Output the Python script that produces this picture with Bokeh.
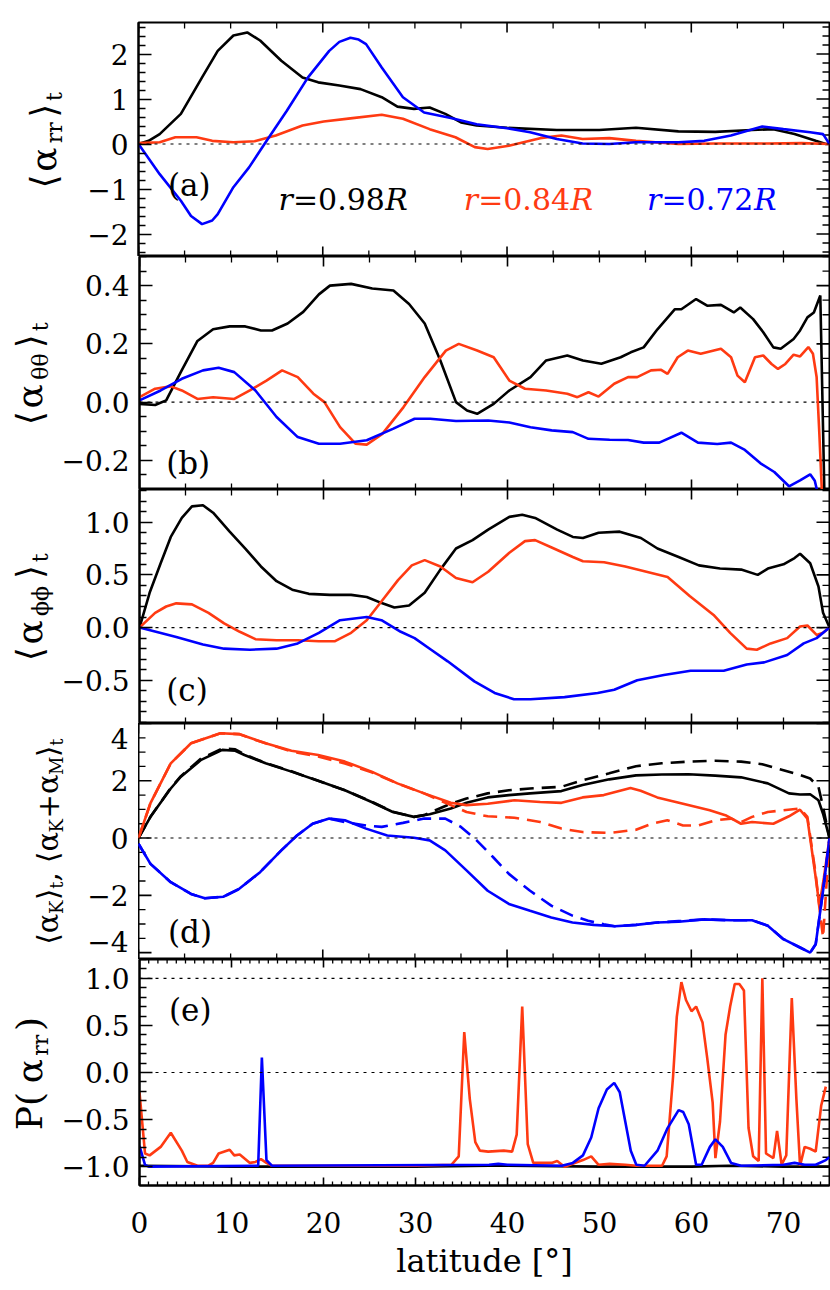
import numpy as np
from bokeh.plotting import figure
from bokeh.models import Range1d, FixedTicker, Span, Label
from bokeh.layouts import column, row
from bokeh.embed import file_html
from bokeh.resources import INLINE

# ---------------- data ----------------
# panel (a): <alpha_rr>_t
a_black_x = [0, 1.1, 2.3, 4.6, 6.9, 8.6, 10.3, 11.8, 13.2, 15.5, 17.8, 19.5, 21.8, 24.1, 26.4, 28.1, 29.9, 31.6, 33.3, 35.0, 36.7, 40.0, 45.4, 50.0, 54.0, 58.6, 62.6, 66.6, 68.9, 71.2, 73.5, 74.6, 75.0]
a_black_y = [0.0, 0.07, 0.22, 0.67, 1.48, 2.07, 2.41, 2.48, 2.30, 1.85, 1.48, 1.37, 1.30, 1.22, 1.04, 0.83, 0.78, 0.81, 0.67, 0.48, 0.41, 0.36, 0.31, 0.31, 0.36, 0.28, 0.27, 0.31, 0.33, 0.22, 0.07, 0.0, 0.0]
a_red_x = [0, 2.3, 4.0, 6.3, 8.0, 10.3, 12.6, 14.9, 17.8, 20.1, 23.0, 26.4, 28.7, 31.6, 34.4, 36.5, 37.9, 40.2, 43.6, 45.9, 48.2, 51.1, 54.0, 58.6, 62.6, 68.3, 72.0, 75.0]
a_red_y = [0.02, 0.04, 0.15, 0.15, 0.07, 0.04, 0.06, 0.19, 0.41, 0.50, 0.57, 0.65, 0.56, 0.33, 0.15, -0.07, -0.11, -0.04, 0.13, 0.19, 0.11, 0.13, 0.07, 0.0, 0.01, 0.01, 0.02, 0.0]
a_blue_x = [0, 2.3, 4.6, 5.7, 6.9, 8.0, 8.6, 10.3, 12.0, 13.8, 16.1, 18.4, 20.7, 21.8, 23.0, 23.9, 24.7, 26.4, 28.7, 31.0, 33.9, 36.7, 40.0, 42.5, 45.4, 48.2, 51.1, 54.0, 58.6, 61.4, 64.3, 67.7, 70.0, 72.9, 74.3, 75.0]
a_blue_y = [0.0, -0.67, -1.26, -1.60, -1.78, -1.70, -1.56, -0.96, -0.52, 0.04, 0.74, 1.48, 2.07, 2.27, 2.36, 2.32, 2.22, 1.70, 1.04, 0.70, 0.58, 0.44, 0.35, 0.26, 0.11, 0.01, 0.0, 0.04, 0.04, 0.07, 0.19, 0.39, 0.33, 0.26, 0.22, 0.0]

# panel (b): <alpha_thetatheta>_t
b_black_x = [0, 1.7, 2.9, 4.6, 6.3, 8.0, 9.8, 11.5, 13.2, 14.4, 16.1, 17.8, 19.5, 20.7, 23.0, 25.3, 27.6, 29.3, 31.0, 32.7, 34.4, 35.6, 36.7, 38.5, 40.2, 42.5, 44.2, 46.5, 48.2, 50.2, 52.3, 53.4, 54.8, 56.3, 58.2, 58.9, 60.5, 61.7, 63.2, 64.6, 65.3, 66.7, 67.8, 68.9, 69.7, 71.1, 71.8, 72.6, 73.3, 74.0, 74.5]
b_black_y = [-0.006, -0.01, 0.006, 0.11, 0.21, 0.25, 0.26, 0.26, 0.246, 0.246, 0.27, 0.31, 0.37, 0.40, 0.406, 0.39, 0.383, 0.337, 0.27, 0.143, 0.0, -0.029, -0.04, -0.006, 0.04, 0.086, 0.143, 0.16, 0.143, 0.132, 0.154, 0.171, 0.188, 0.25, 0.319, 0.319, 0.354, 0.331, 0.334, 0.308, 0.325, 0.285, 0.24, 0.188, 0.183, 0.217, 0.246, 0.291, 0.308, 0.366, -0.40]
b_red_x = [0, 1.7, 3.4, 4.6, 6.3, 8.0, 10.3, 12.0, 13.8, 15.5, 17.2, 18.9, 20.1, 21.8, 23.5, 24.7, 26.4, 28.7, 31.0, 33.3, 34.7, 36.7, 38.5, 40.2, 41.9, 44.2, 46.5, 47.6, 48.8, 49.9, 51.6, 53.1, 54.1, 55.6, 56.7, 57.4, 58.5, 59.6, 61.0, 63.2, 64.3, 65.0, 65.8, 66.9, 67.8, 68.7, 69.4, 70.2, 71.1, 71.8, 72.7, 73.2, 73.6, 73.9, 74.3]
b_red_y = [0.017, 0.046, 0.054, 0.04, 0.011, 0.017, 0.011, 0.04, 0.074, 0.109, 0.086, 0.029, 0.0, -0.086, -0.143, -0.146, -0.109, -0.017, 0.086, 0.177, 0.2, 0.177, 0.154, 0.074, 0.046, 0.04, 0.029, 0.017, 0.034, 0.019, 0.063, 0.086, 0.086, 0.109, 0.111, 0.097, 0.154, 0.177, 0.166, 0.183, 0.154, 0.091, 0.068, 0.154, 0.16, 0.131, 0.114, 0.131, 0.163, 0.157, 0.189, 0.166, 0.086, -0.11, -0.40]
b_blue_x = [0, 2.3, 4.6, 6.9, 8.6, 10.3, 12.6, 14.9, 17.2, 19.5, 21.8, 24.7, 27.6, 29.9, 31.6, 34.4, 37.9, 40.2, 42.5, 44.8, 47.1, 48.8, 51.1, 53.1, 54.8, 56.5, 58.9, 60.7, 62.8, 64.3, 65.8, 67.5, 69.0, 70.6, 71.8, 72.9, 73.4, 74.0]
b_blue_y = [0.006, 0.04, 0.08, 0.109, 0.118, 0.103, 0.04, -0.051, -0.12, -0.143, -0.143, -0.131, -0.091, -0.057, -0.057, -0.065, -0.063, -0.07, -0.086, -0.097, -0.103, -0.126, -0.129, -0.13, -0.139, -0.139, -0.105, -0.139, -0.144, -0.139, -0.164, -0.21, -0.24, -0.289, -0.269, -0.248, -0.27, -0.35]

# panel (c): <alpha_phiphi>_t
c_black_x = [0, 1.1, 2.3, 3.4, 4.6, 5.7, 6.9, 8.0, 9.8, 11.5, 13.2, 14.9, 16.6, 18.4, 20.7, 23.0, 24.7, 26.4, 27.7, 29.3, 31.0, 32.7, 34.4, 36.2, 37.9, 40.2, 41.6, 43.0, 45.4, 47.1, 48.2, 49.9, 52.2, 54.5, 56.3, 58.6, 60.8, 63.1, 65.4, 67.2, 68.3, 70.0, 71.2, 71.8, 72.9, 73.8, 74.3, 75.0]
c_black_y = [0.0, 0.33, 0.61, 0.86, 1.04, 1.15, 1.16, 1.09, 0.91, 0.75, 0.58, 0.44, 0.36, 0.32, 0.31, 0.31, 0.29, 0.23, 0.19, 0.21, 0.33, 0.55, 0.75, 0.83, 0.93, 1.05, 1.07, 1.04, 0.93, 0.86, 0.85, 0.90, 0.91, 0.85, 0.75, 0.67, 0.59, 0.56, 0.55, 0.50, 0.56, 0.60, 0.66, 0.70, 0.61, 0.39, 0.14, 0.0]
c_red_x = [0, 1.7, 2.9, 4.0, 5.7, 7.5, 9.2, 10.9, 12.6, 14.9, 17.2, 19.5, 21.2, 23.0, 24.7, 26.4, 28.1, 29.6, 31.0, 32.7, 34.4, 36.2, 37.9, 40.2, 41.9, 43.0, 44.8, 47.1, 48.2, 50.5, 52.8, 55.1, 57.4, 59.8, 62.4, 64.2, 66.0, 67.1, 68.6, 70.4, 71.8, 72.6, 73.6, 74.3, 75.0]
c_red_y = [0.0, 0.14, 0.20, 0.23, 0.22, 0.14, 0.04, -0.04, -0.11, -0.12, -0.12, -0.13, -0.13, -0.05, 0.07, 0.26, 0.45, 0.59, 0.64, 0.58, 0.47, 0.43, 0.53, 0.71, 0.82, 0.83, 0.76, 0.67, 0.63, 0.62, 0.58, 0.53, 0.48, 0.30, 0.12, -0.05, -0.20, -0.21, -0.15, -0.10, 0.01, 0.02, -0.07, -0.05, 0.0]
c_blue_x = [0, 4.0, 6.9, 9.2, 12.0, 14.9, 17.2, 19.5, 21.8, 24.7, 26.3, 28.4, 29.9, 31.7, 33.5, 36.4, 38.6, 40.7, 42.5, 46.2, 49.8, 51.6, 54.1, 57.0, 59.9, 63.5, 66.0, 67.9, 70.4, 72.2, 73.6, 75.0]
c_blue_y = [0.0, -0.09, -0.16, -0.20, -0.21, -0.20, -0.15, -0.05, 0.07, 0.10, 0.07, -0.04, -0.10, -0.21, -0.32, -0.51, -0.62, -0.68, -0.68, -0.66, -0.62, -0.59, -0.50, -0.45, -0.41, -0.41, -0.35, -0.33, -0.26, -0.15, -0.10, 0.0]

# panel (d): <alpha_K>_t (solid) and <alpha_K + alpha_M>_t (dashed)
d_black_x = [0, 1.3, 3.5, 4.6, 6.8, 9.1, 10.5, 11.5, 13.8, 16.6, 19.5, 22.4, 25.3, 27.6, 29.9, 31.6, 33.9, 35.6, 37.9, 40.2, 42.5, 45.9, 48.2, 51.1, 54.0, 56.8, 59.7, 62.6, 65.4, 68.3, 70.6, 71.8, 72.9, 73.8, 74.3, 75.0]
d_black_y = [0.0, 0.74, 1.73, 2.14, 2.73, 3.08, 3.05, 2.90, 2.61, 2.32, 2.00, 1.67, 1.26, 0.91, 0.74, 0.83, 1.03, 1.23, 1.42, 1.50, 1.56, 1.64, 1.85, 2.05, 2.19, 2.22, 2.23, 2.18, 2.12, 1.91, 1.56, 1.52, 1.53, 1.32, 0.85, 0.0]
d_black_dash_x = [0, 1.3, 3.5, 4.6, 6.8, 9.1, 10.5, 11.5, 13.8, 16.6, 19.5, 22.4, 25.3, 27.6, 29.9, 31.0, 33.9, 35.6, 37.9, 40.2, 42.5, 45.9, 48.2, 51.1, 54.0, 56.8, 59.7, 62.6, 65.4, 67.7, 70.0, 71.8, 72.9, 73.8, 74.3, 75.0]
d_black_dash_y = [0.0, 0.74, 1.75, 2.16, 2.78, 3.13, 3.10, 2.92, 2.62, 2.33, 2.00, 1.67, 1.27, 0.92, 0.74, 0.80, 1.20, 1.38, 1.56, 1.67, 1.73, 1.79, 2.02, 2.26, 2.51, 2.61, 2.67, 2.70, 2.67, 2.58, 2.37, 2.20, 2.08, 1.79, 1.09, 0.0]
d_red_x = [0, 1.3, 3.5, 5.7, 8.9, 10.9, 13.8, 16.6, 19.5, 22.4, 25.3, 28.1, 31.0, 33.9, 35.6, 37.9, 40.8, 43.6, 45.9, 48.2, 50.5, 53.4, 54.5, 56.3, 59.1, 62.0, 63.7, 65.4, 66.6, 68.9, 70.6, 71.8, 72.6, 73.5, 73.9, 74.4, 75.0]
d_red_y = [0.0, 1.22, 2.61, 3.31, 3.66, 3.63, 3.31, 3.05, 2.90, 2.67, 2.32, 1.91, 1.56, 1.23, 1.15, 1.20, 1.32, 1.26, 1.23, 1.42, 1.50, 1.75, 1.65, 1.42, 1.20, 0.97, 0.80, 0.50, 0.56, 0.50, 0.76, 0.99, 0.68, -1.37, -2.36, -1.37, 0.0]
d_red_dash_x = [0, 1.3, 3.5, 5.7, 8.9, 10.9, 13.8, 16.6, 19.5, 22.4, 25.3, 28.1, 31.0, 33.9, 35.6, 37.9, 40.8, 43.6, 45.9, 48.2, 51.1, 54.0, 55.7, 57.4, 59.1, 60.8, 62.6, 64.3, 65.4, 66.6, 68.3, 70.0, 71.8, 72.6, 73.5, 73.9, 74.3, 75.0]
d_red_dash_y = [0.0, 1.22, 2.61, 3.31, 3.66, 3.63, 3.31, 3.02, 2.85, 2.60, 2.30, 1.91, 1.56, 1.15, 0.91, 0.76, 0.71, 0.56, 0.33, 0.21, 0.18, 0.29, 0.50, 0.62, 0.44, 0.44, 0.62, 0.68, 0.56, 0.74, 0.91, 0.97, 1.03, 0.74, -1.25, -2.42, -3.47, 0.0]
d_blue_x = [0, 1.3, 3.5, 5.7, 7.2, 9.2, 10.9, 13.2, 15.5, 17.2, 18.9, 20.7, 22.4, 24.7, 27.0, 29.9, 31.6, 33.3, 35.6, 37.9, 40.2, 42.5, 44.8, 47.1, 49.4, 51.7, 54.0, 56.3, 58.6, 61.4, 64.3, 66.6, 68.3, 70.0, 71.8, 72.9, 73.5, 74.3, 75.0]
d_blue_y = [-0.2, -0.90, -1.54, -1.95, -2.10, -2.05, -1.78, -1.19, -0.43, 0.09, 0.50, 0.68, 0.62, 0.33, 0.09, 0.01, -0.08, -0.43, -1.13, -1.84, -2.30, -2.54, -2.77, -2.95, -3.03, -3.08, -3.03, -2.95, -2.92, -2.84, -2.87, -2.87, -3.06, -3.53, -3.82, -4.00, -3.71, -1.84, 0.0]
d_blue_dash_x = [0, 1.3, 3.5, 5.7, 7.2, 9.2, 10.9, 13.2, 15.5, 17.2, 18.9, 20.7, 22.4, 24.7, 26.4, 28.7, 31.0, 33.3, 35.0, 36.7, 38.5, 40.2, 42.5, 44.8, 47.1, 48.8, 50.5, 51.7, 54.0, 56.3, 58.6, 61.4, 64.3, 66.6, 68.3, 70.0, 71.8, 72.9, 73.5, 74.3, 75.0]
d_blue_dash_y = [-0.2, -0.90, -1.54, -1.95, -2.10, -2.05, -1.78, -1.19, -0.43, 0.09, 0.50, 0.68, 0.56, 0.44, 0.39, 0.53, 0.68, 0.68, 0.39, -0.08, -0.67, -1.25, -1.84, -2.36, -2.71, -2.89, -3.01, -3.08, -3.03, -2.95, -2.90, -2.84, -2.87, -2.87, -3.06, -3.53, -3.82, -4.00, -3.71, -1.84, 0.0]

# panel (e): P(alpha_rr)
e_black_x = [0, 10, 20, 30, 38, 40, 50, 60, 64, 70, 75]
e_black_y = [-0.99, -1.0, -1.0, -1.0, -0.99, -0.99, -1.0, -1.0, -0.99, -1.0, -1.0]
e_red_x = [0, 0.6, 1.1, 2.3, 3.4, 4.6, 5.2, 6.3, 7.5, 8.0, 8.6, 9.8, 10.3, 10.9, 12.0, 12.6, 13.2, 13.8, 14.4, 20.0, 30.0, 33.9, 34.7, 35.3, 35.9, 36.5, 37.0, 37.9, 39.6, 40.5, 41.0, 41.6, 42.2, 42.8, 44.8, 45.4, 46.2, 48.2, 49.1, 49.9, 51.1, 52.8, 54.0, 56.8, 57.3, 58.0, 58.4, 58.9, 59.4, 60.0, 60.5, 61.2, 61.7, 62.3, 62.6, 63.1, 63.7, 64.2, 64.7, 65.2, 65.7, 66.2, 66.7, 67.3, 67.7, 68.1, 68.9, 69.3, 69.8, 70.3, 70.9, 71.4, 71.8, 72.3, 72.9, 73.5, 74.1, 74.6]
e_red_y = [-0.21, -0.86, -0.88, -0.79, -0.64, -0.83, -0.95, -0.99, -0.99, -0.96, -0.86, -0.82, -0.88, -0.87, -0.96, -0.95, -0.92, -0.96, -0.99, -0.99, -0.99, -0.98, -0.89, 0.43, -0.28, -0.74, -0.83, -0.84, -0.83, -0.84, -0.66, 0.70, -0.76, -0.96, -0.96, -0.94, -1.0, -0.93, -0.89, -0.98, -0.97, -0.98, -0.99, -0.99, -0.89, -0.04, 0.59, 0.96, 0.77, 0.65, 0.70, 0.53, 0.16, -0.32, -0.91, -0.52, 0.40, 0.70, 0.94, 0.94, 0.87, -0.59, -0.89, -0.94, 1.0, -0.86, -0.91, -0.62, -0.98, -0.88, 0.79, -0.28, -0.99, -0.79, -0.81, -0.84, -0.35, -0.15]
e_blue_x = [0, 0.6, 1.0, 12.9, 13.3, 13.8, 14.4, 38.0, 39.0, 40.0, 45.9, 47.1, 48.2, 49.1, 49.9, 50.8, 51.6, 52.2, 52.8, 53.4, 54.0, 54.9, 56.3, 57.4, 58.6, 59.1, 59.7, 60.5, 61.1, 62.0, 62.6, 63.4, 64.3, 65.4, 70.0, 71.2, 72.3, 73.5, 74.6, 75.0]
e_blue_y = [-0.78, -0.98, -1.0, -0.99, 0.16, -0.93, -0.99, -0.98, -0.97, -0.98, -0.99, -0.96, -0.88, -0.69, -0.38, -0.18, -0.11, -0.21, -0.52, -0.83, -0.98, -0.99, -0.83, -0.59, -0.40, -0.42, -0.55, -0.98, -0.98, -0.79, -0.71, -0.79, -0.96, -0.99, -0.98, -0.96, -0.98, -0.98, -0.93, -0.90]

# axes / ticks
lat_range = (0, 75)
x_ticks_upper = [0, 20, 40, 60]
x_minor_upper = 5.0
x_ticks_bottom = [0, 10, 20, 30, 40, 50, 60, 70]
x_minor_bottom = 1.0
x_tick_labels = ["0", "10", "20", "30", "40", "50", "60", "70"]
y_ranges = [(-2.5, 2.7), (-0.3, 0.5), (-0.91, 1.31), (-4.24, 4.0), (-1.2, 1.2)]
y_ticks = [[-2, -1, 0, 1, 2], [-0.2, 0.0, 0.2, 0.4], [-0.5, 0.0, 0.5, 1.0], [-4, -2, 0, 2, 4], [-1.0, -0.5, 0.0, 0.5, 1.0]]
y_tick_labels = [["−2", "−1", "0", "1", "2"], ["−0.2", "0.0", "0.2", "0.4"], ["−0.5", "0.0", "0.5", "1.0"],
                 ["−4", "−2", "0", "2", "4"], ["−1.0", "−0.5", "0.0", "0.5", "1.0"]]
y_minor_step = [0.2, 0.05, 0.1, 0.5, 0.1]
ref_lines = [[0.0], [0.0], [0.0], [0.0], [0.0, 1.0]]
panel_tags = ["(a)", "(b)", "(c)", "(d)", "(e)"]
legend_labels = [("r", "=0.98", "R"), ("r", "=0.84", "R"), ("r", "=0.72", "R")]

# ---------------- styling / layout ----------------
FONT = "DejaVu Serif"
BLACK, RED, BLUE = "#000000", "#FF3A12", "#0000FF"
LW = 2.6
TICK_FS = "28px"
FW = 691                      # frame width in px
XL = 138                      # frame left edge in px
PXDEG = FW / 75.0
FRAME_H = [234, 233, 234, 236, 233]
TOP = [22, 0, 0, 0, 0]
BOTTOM = [0, 0, 0, 0, 90]
LABEL_W = [80, 58, 58, XL, 58]   # width of the left strip holding the axis titles
LEFT_AXIS = [True, True, True, False, True]

CW = {"⟨": 0.39, "⟩": 0.39, "α": 0.66, "θ": 0.60, "ϕ": 0.70, "r": 0.48, "t": 0.40, "K": 0.78,
      "M": 0.99, "+": 0.84, ",": 0.32, " ": 0.32, "P": 0.73, "(": 0.39, ")": 0.39,
      "=": 0.84, "0": 0.64, "1": 0.64, "2": 0.64, "4": 0.64, "7": 0.64, "8": 0.64, "9": 0.64,
      ".": 0.32, "R": 0.77}


def tw(txt, fs):
    return sum(CW.get(ch, 0.6) for ch in txt) * fs


def minor_list(lo, hi, step, majors):
    vals = np.round(np.arange(np.ceil(lo / step) * step, hi + 1e-9, step), 6)
    return [float(v) for v in vals if all(abs(v - m) > 1e-6 for m in majors)]


def style_axis(ax, major_in, minor_in, standoff=10):
    ax.axis_line_width = 2
    ax.axis_line_color = "black"
    ax.major_tick_in = major_in
    ax.major_tick_out = 0
    ax.minor_tick_in = minor_in
    ax.minor_tick_out = 0
    ax.major_tick_line_width = 1.6
    ax.minor_tick_line_width = 1.3
    ax.major_tick_line_color = "black"
    ax.minor_tick_line_color = "black"
    ax.major_label_text_font = FONT
    ax.major_label_text_font_size = TICK_FS
    ax.major_label_text_color = "black"
    ax.major_label_standoff = standoff


def inward_ticks(p, side, pos, length, lw):
    """Short inward tick marks drawn as screen-length rays from a frame edge."""
    n = len(pos)
    x0, x1 = lat_range
    y0, y1 = p.y_range.start, p.y_range.end
    if side == "right":
        p.ray(x=[x1] * n, y=pos, length=length, length_units="screen", angle=np.pi,
              line_color="black", line_width=lw)
    elif side == "left":
        p.ray(x=[x0] * n, y=pos, length=length, length_units="screen", angle=0.0,
              line_color="black", line_width=lw)
    elif side == "top":
        p.ray(x=pos, y=[y1] * n, length=length, length_units="screen", angle=-np.pi / 2,
              line_color="black", line_width=lw)
    else:
        p.ray(x=pos, y=[y0] * n, length=length, length_units="screen", angle=np.pi / 2,
              line_color="black", line_width=lw)


def make_panel(i):
    yr = y_ranges[i]
    last = (i == 4)
    lw_ = LABEL_W[i]
    p = figure(width=830 - lw_, height=FRAME_H[i] + TOP[i] + BOTTOM[i],
               x_range=Range1d(*lat_range), y_range=Range1d(*yr),
               output_backend="svg", toolbar_location=None,
               x_axis_location="below" if last else None,
               y_axis_location="left" if LEFT_AXIS[i] else None,
               min_border_left=XL - lw_, min_border_right=1,
               min_border_top=TOP[i], min_border_bottom=BOTTOM[i])
    p.grid.visible = False
    p.outline_line_color = "black"
    p.outline_line_width = 2
    p.background_fill_color = "white"
    p.border_fill_color = "white"

    yminor = minor_list(yr[0], yr[1], y_minor_step[i], y_ticks[i])
    if LEFT_AXIS[i]:
        ly = p.yaxis[0]
        ly.ticker = FixedTicker(ticks=y_ticks[i], minor_ticks=yminor)
        ly.major_label_overrides = {t: l for t, l in zip(y_ticks[i], y_tick_labels[i])}
        style_axis(ly, 13, 7)
    else:
        inward_ticks(p, "left", y_ticks[i], 13, 1.6)
        inward_ticks(p, "left", yminor, 7, 1.3)
    inward_ticks(p, "right", y_ticks[i], 13, 1.6)
    inward_ticks(p, "right", yminor, 7, 1.3)

    if last:
        xminor = minor_list(0, 74.9, x_minor_bottom, x_ticks_bottom)
        bx = p.xaxis[0]
        bx.ticker = FixedTicker(ticks=x_ticks_bottom, minor_ticks=xminor)
        bx.major_label_overrides = {t: l for t, l in zip(x_ticks_bottom, x_tick_labels)}
        style_axis(bx, 8, 4, standoff=26)
        bx.axis_label = "latitude [°]"
        bx.axis_label_text_font = FONT
        bx.axis_label_text_font_size = "32px"
        bx.axis_label_text_font_style = "normal"
        bx.axis_label_text_color = "black"
        bx.axis_label_standoff = 6
        inward_ticks(p, "top", x_ticks_bottom, 8, 1.6)
        inward_ticks(p, "top", xminor, 4, 1.3)
    else:
        xminor = minor_list(0, 74.9, x_minor_upper, x_ticks_upper)
        for side in ("top", "bottom"):
            inward_ticks(p, side, x_ticks_upper, 10, 1.6)
            inward_ticks(p, side, xminor, 6, 1.3)

    for loc in ref_lines[i]:
        p.add_layout(Span(location=loc, dimension="width", line_color="black",
                          line_width=1.1, line_dash="3 5"))
    return p


def make_strip(i):
    lw_ = LABEL_W[i]
    s = figure(width=lw_, height=FRAME_H[i] + TOP[i] + BOTTOM[i],
               x_range=Range1d(0, lw_), y_range=Range1d(*y_ranges[i]),
               output_backend="svg", toolbar_location=None,
               x_axis_location=None, y_axis_location=None,
               min_border_left=0, min_border_right=0,
               min_border_top=TOP[i], min_border_bottom=BOTTOM[i])
    s.grid.visible = False
    s.outline_line_color = None
    s.background_fill_color = "white"
    s.border_fill_color = "white"
    return s


def add_text(p, x, y, txt, fs, align="left", baseline="alphabetic", color="black",
             style="normal", angle=0.0):
    p.add_layout(Label(x=x, y=y, text=txt, text_font=FONT, text_font_size=f"{fs}px",
                       text_align=align, text_baseline=baseline, text_color=color,
                       text_font_style=style, angle=angle))


def ylabel(s, i, pieces, base_x, fm=36, spread=1.2):
    fsub = round(fm * 0.62)
    yr = y_ranges[i]
    h = FRAME_H[i]
    total = sum(tw(t, fm if big else fsub) for t, big in pieces) * spread
    pos = (h - total) / 2.0
    for t, big in pieces:
        f = fm if big else fsub
        dx = 0 if big else 0.30 * fm
        y = yr[0] + pos * (yr[1] - yr[0]) / h
        add_text(s, base_x + dx, y, t, f, angle=np.pi / 2)
        pos += tw(t, f) * spread


panels = [make_panel(i) for i in range(5)]
strips = [make_strip(i) for i in range(5)]
pa, pb, pc, pd, pe = panels

# curves
pa.line(a_black_x, a_black_y, line_color=BLACK, line_width=LW)
pa.line(a_red_x, a_red_y, line_color=RED, line_width=LW)
pa.line(a_blue_x, a_blue_y, line_color=BLUE, line_width=LW)

pb.line(b_black_x, b_black_y, line_color=BLACK, line_width=LW)
pb.line(b_red_x, b_red_y, line_color=RED, line_width=LW)
pb.line(b_blue_x, b_blue_y, line_color=BLUE, line_width=LW)

pc.line(c_black_x, c_black_y, line_color=BLACK, line_width=LW)
pc.line(c_red_x, c_red_y, line_color=RED, line_width=LW)
pc.line(c_blue_x, c_blue_y, line_color=BLUE, line_width=LW)

DASH = "14 8"
pd.line(d_black_dash_x, d_black_dash_y, line_color=BLACK, line_width=LW, line_dash=DASH)
pd.line(d_black_x, d_black_y, line_color=BLACK, line_width=LW)
pd.line(d_red_dash_x, d_red_dash_y, line_color=RED, line_width=LW, line_dash=DASH)
pd.line(d_red_x, d_red_y, line_color=RED, line_width=LW)
pd.line(d_blue_dash_x, d_blue_dash_y, line_color=BLUE, line_width=LW, line_dash=DASH)
pd.line(d_blue_x, d_blue_y, line_color=BLUE, line_width=LW)

pe.line(e_black_x, e_black_y, line_color=BLACK, line_width=LW)
pe.line(e_red_x, e_red_y, line_color=RED, line_width=LW)
pe.line(e_blue_x, e_blue_y, line_color=BLUE, line_width=LW)

# panel tags
tag_pos = [(3.2, -0.9), (2.9, -0.21), (2.9, -0.59), (3.2, -3.27), (3.2, 0.66)]
for p, tag, (tx_, ty_) in zip(panels, panel_tags, tag_pos):
    add_text(p, tx_, ty_, tag, 31, baseline="middle")

# legend of radii in panel (a)
leg_x = [15.2, 35.3, 55.2]
leg_col = [BLACK, RED, BLUE]
LEG_FS = 30
for (r1, mid, r2), lx, col in zip(legend_labels, leg_x, leg_col):
    add_text(pa, lx, -1.24, r1, LEG_FS, color=col, style="italic")
    x2 = lx + tw(r1, LEG_FS) / PXDEG
    add_text(pa, x2, -1.24, mid, LEG_FS, color=col)
    x3 = x2 + tw(mid, LEG_FS) / PXDEG
    add_text(pa, x3, -1.24, r2, LEG_FS, color=col, style="italic")

# tick labels of panel (d), kept inside the row (outermost ones hang inside the box)
sd = strips[3]
yr_d = y_ranges[3]
px_d = (yr_d[1] - yr_d[0]) / FRAME_H[3]      # one pixel expressed in data units
for t, lab in zip(y_ticks[3], y_tick_labels[3]):
    if t == max(y_ticks[3]):
        add_text(sd, XL - 10, yr_d[1] - 4 * px_d, lab, 28, align="right", baseline="top")
    elif t == min(y_ticks[3]):
        add_text(sd, XL - 10, yr_d[0] + 18 * px_d, lab, 28, align="right", baseline="middle")
    else:
        add_text(sd, XL - 10, t, lab, 28, align="right", baseline="middle")

# y-axis titles (composed with subscripts)
ylabel(strips[0], 0, [("⟨", True), ("α", True), ("rr", False), ("⟩", True), ("t", False)], 43)
ylabel(strips[1], 1, [("⟨", True), ("α", True), ("θθ", False), ("⟩", True), ("t", False)], 29)
ylabel(strips[2], 2, [("⟨", True), ("α", True), ("ϕϕ", False), ("⟩", True), ("t", False)], 29)
ylabel(strips[3], 3, [("⟨", True), ("α", True), ("K", False), ("⟩", True), ("t", False), (", ", True),
                      ("⟨", True), ("α", True), ("K", False), ("+", True), ("α", True), ("M", False),
                      ("⟩", True), ("t", False)], 47, fm=29, spread=1.0)
ylabel(strips[4], 4, [("P(", True), ("α", True), ("rr", False), (")", True)], 29)

layout = column(*[row(s, p, spacing=0) for s, p in zip(strips, panels)], spacing=0)
open("out.html", "w").write(file_html(layout, INLINE))
